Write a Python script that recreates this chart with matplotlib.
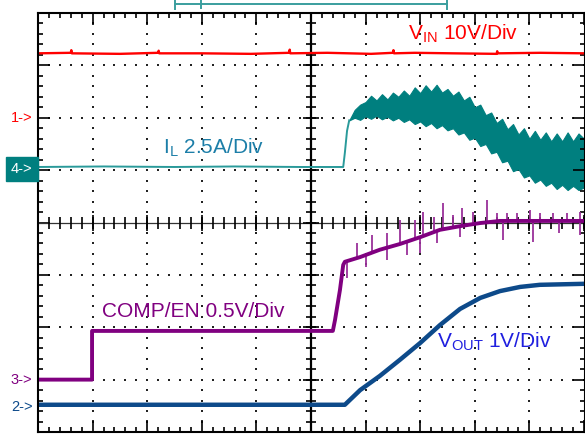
import numpy as np
import matplotlib
matplotlib.use("Agg")
import matplotlib.pyplot as plt
from matplotlib.lines import Line2D

plt.rcParams['font.family'] = 'Liberation Sans'
plt.rcParams['mathtext.fontset'] = 'custom'
plt.rcParams['mathtext.rm'] = 'Liberation Sans'

# screen divisions: x 0..10, y -4..4 (scope graticule)
vin_x = [0, 0.6, 0.61, 0.62, 1.5, 2.2, 2.21, 2.22, 3.0, 3.9, 4.6, 4.61, 4.62, 5.3, 6.1, 6.5, 6.51, 6.52,
         6.9, 7.6, 8.4, 8.41, 8.42, 9.2, 10.02]
vin_y = [3.23, 3.24, 3.29, 3.23, 3.22, 3.24, 3.28, 3.23, 3.23, 3.22, 3.24, 3.30, 3.23, 3.24, 3.22, 3.24,
         3.29, 3.23, 3.24, 3.23, 3.22, 3.27, 3.23, 3.24, 3.23]

il_x = [0, 1.2, 2.5, 3.6, 4.8, 5.59, 5.62, 5.66, 5.70]
il_y = [1.06, 1.07, 1.06, 1.07, 1.06, 1.06, 1.33, 1.75, 1.95]
band_x = [5.7, 5.8, 5.9, 6.0, 6.1, 6.2, 6.3, 6.4, 6.5, 6.6, 6.7, 6.8, 6.9, 7.0, 7.1,
          7.2, 7.3, 7.4, 7.5, 7.6, 7.7, 7.8, 7.9, 8.0, 8.1, 8.2, 8.3, 8.4, 8.5, 8.6,
          8.7, 8.8, 8.9, 9.0, 9.1, 9.2, 9.3, 9.4, 9.5, 9.6, 9.7, 9.8, 9.9, 10.02]
band_hi = [1.95, 2.15, 2.25, 2.30, 2.42, 2.33, 2.45, 2.35, 2.48, 2.40, 2.52, 2.42, 2.58, 2.47, 2.62,
           2.50, 2.63, 2.48, 2.55, 2.42, 2.50, 2.33, 2.40, 2.20, 2.25, 2.05, 2.10, 1.90, 1.98, 1.78,
           1.88, 1.68, 1.80, 1.60, 1.75, 1.58, 1.72, 1.55, 1.70, 1.55, 1.72, 1.55, 1.70, 1.58]
band_lo = [1.95, 2.00, 1.96, 2.03, 1.98, 2.04, 1.97, 2.02, 1.95, 2.00, 1.92, 1.97, 1.88, 1.93, 1.84,
           1.90, 1.80, 1.86, 1.76, 1.80, 1.68, 1.72, 1.58, 1.62, 1.46, 1.50, 1.32, 1.35, 1.15, 1.18,
           0.98, 1.02, 0.86, 0.90, 0.76, 0.82, 0.70, 0.76, 0.64, 0.72, 0.62, 0.70, 0.62, 0.68]

comp_x = [0, 0.99, 0.99, 5.40, 5.44, 5.53, 5.59, 5.62, 5.9, 6.26, 6.63, 7.0, 7.36, 7.73, 8.1, 8.46, 10.02]
comp_y = [-3.0, -3.0, -2.07, -2.07, -1.86, -1.29, -0.81, -0.75, -0.66, -0.52, -0.41, -0.28, -0.14,
          -0.07, -0.01, 0.03, 0.03]
spike_x = [5.85, 6.12, 6.40, 6.63, 6.90, 7.05, 7.25, 7.42, 7.60, 7.76, 7.97, 8.22, 8.41, 8.59, 8.77,
           9.01, 9.19, 9.43, 9.69, 9.93,
           5.66, 6.00, 6.39, 6.75, 7.0, 7.31, 7.73, 8.52, 9.07, 9.55, 9.93]
spike_lo = [-0.67, -0.60, -0.49, -0.41, -0.31, -0.26, -0.20, -0.13, -0.10, -0.06, -0.03, 0.0, 0.02, 0.03,
            0.03, 0.03, 0.03, 0.03, 0.03, 0.03,
            -1.06, -0.85, -0.72, -0.62, -0.58, -0.39, -0.28, -0.33, -0.37, -0.20, -0.24]
spike_hi = [-0.40, -0.24, -0.20, 0.05, 0.05, 0.20, 0.10, 0.37, 0.15, 0.28, 0.20, 0.43, 0.18, 0.18,
            0.18, 0.24, 0.18, 0.18, 0.18, 0.20,
            -0.75, -0.63, -0.48, -0.37, -0.28, -0.16, -0.07, 0.03, 0.03, 0.03, 0.03]

vout_x = [0, 5.62, 5.9, 6.26, 6.63, 7.0, 7.36, 7.73, 8.1, 8.46, 8.83, 9.19, 10.02]
vout_y = [-3.48, -3.48, -3.20, -2.93, -2.62, -2.30, -1.96, -1.65, -1.44, -1.31, -1.23, -1.19, -1.17]

W, H = 585, 434
fig = plt.figure(figsize=(W / 100, H / 100), dpi=100)
ax = fig.add_axes([38 / W, 2 / H, (W - 38) / W, 419 / H])
ax.set_xlim(0, 547 / 54.6)
ax.set_ylim(-4, 4)

teal = '#007f7f'
purple = '#800080'
navy = '#0d4a8a'
red = '#ff0000'

# graticule dots
minx = np.arange(0, 10.01, 0.2)
miny = np.arange(-4, 4.01, 0.2)
for gx in range(1, 10):
    if gx != 5:
        ax.scatter([gx] * len(miny), miny, s=1.2, marker='s', color='#222222', linewidths=0)
for gy in range(-3, 4):
    if gy != 0:
        ax.scatter(minx, [gy] * len(minx), s=1.2, marker='s', color='#222222', linewidths=0)

# center cross
ax.axvline(5, color='black', lw=1.6)
ax.axhline(0, color='#333333', lw=0.9)
ax.plot([5] * len(miny), miny, ls='none', marker='_', ms=7, mew=1.2, color='black')
ax.plot(minx, [0] * len(minx), ls='none', marker='|', ms=8, mew=1.2, color='black')
ax.plot([5] * 9, range(-4, 5), ls='none', marker='_', ms=11, mew=1.2, color='black')
ax.plot(range(0, 11), [0] * 11, ls='none', marker='|', ms=12, mew=1.2, color='black')

# frame ticks
ax.set_xticks(range(0, 11))
ax.set_yticks(range(-4, 5))
ax.set_xticks(minx, minor=True)
ax.set_yticks(miny, minor=True)
ax.set_xticklabels([])
ax.set_yticklabels([])
ax.tick_params(which='both', direction='in', top=True, right=True, color='black', width=1.2)
ax.tick_params(which='major', length=8.5)
ax.tick_params(which='minor', length=3.6)
for s in ax.spines.values():
    s.set_linewidth(1.5)

# traces
ax.plot(vin_x, vin_y, color=red, lw=1.7)
ax.plot(il_x, il_y, color='#2a9a9a', lw=1.4)
ax.fill_between(band_x, band_lo, band_hi, color=teal, lw=0.8, edgecolor=teal)
ax.vlines(spike_x, spike_lo, spike_hi, color='#9a309a', lw=1.3)
ax.plot(comp_x, comp_y, color=purple, lw=2.8)
ax.plot(vout_x, vout_y, color=navy, lw=3.2)

# labels
ax.text(6.78, 3.50, r'V$_{\mathrm{IN}}$ 10V/Div', color=red, fontsize=15, va='baseline')
ax.text(2.29, 1.31, r'I$_{\mathrm{L}}$ 2.5A/Div', color='#1c7ea8', fontsize=15, va='baseline')
ax.text(1.17, -1.80, 'COMP/EN 0.5V/Div', color=purple, fontsize=15, va='baseline')
ax.text(7.31, -2.38, r'V$_{\mathrm{OUT}}$ 1V/Div', color='#1f1fdf', fontsize=15, va='baseline')

tr = ax.get_yaxis_transform()
ax.text(-0.01, 2.0, '1->', color=red, fontsize=10.5, ha='right', va='center', transform=tr, clip_on=False)
ax.text(-0.01, 1.02, '4->', color='white', fontsize=10.5, ha='right', va='center', transform=tr,
        clip_on=False, bbox=dict(boxstyle='square,pad=0.35', fc=teal, ec=teal))
ax.text(-0.01, -3.0, '3->', color=purple, fontsize=10.5, ha='right', va='center', transform=tr, clip_on=False)
ax.text(-0.01, -3.52, '2->', color=navy, fontsize=10.5, ha='right', va='center', transform=tr, clip_on=False)

# record bracket above the graticule
def fl(x0, y0, x1, y1):
    fig.add_artist(Line2D([x0 / W, x1 / W], [1 - y0 / H, 1 - y1 / H], color='#3a9e9e', lw=1.4))
fl(175, 4, 447, 4)
fl(175, 0, 175, 9)
fl(201, 0, 201, 8)
fl(447, 0, 447, 9)

fig.savefig('out.png', dpi=100)
